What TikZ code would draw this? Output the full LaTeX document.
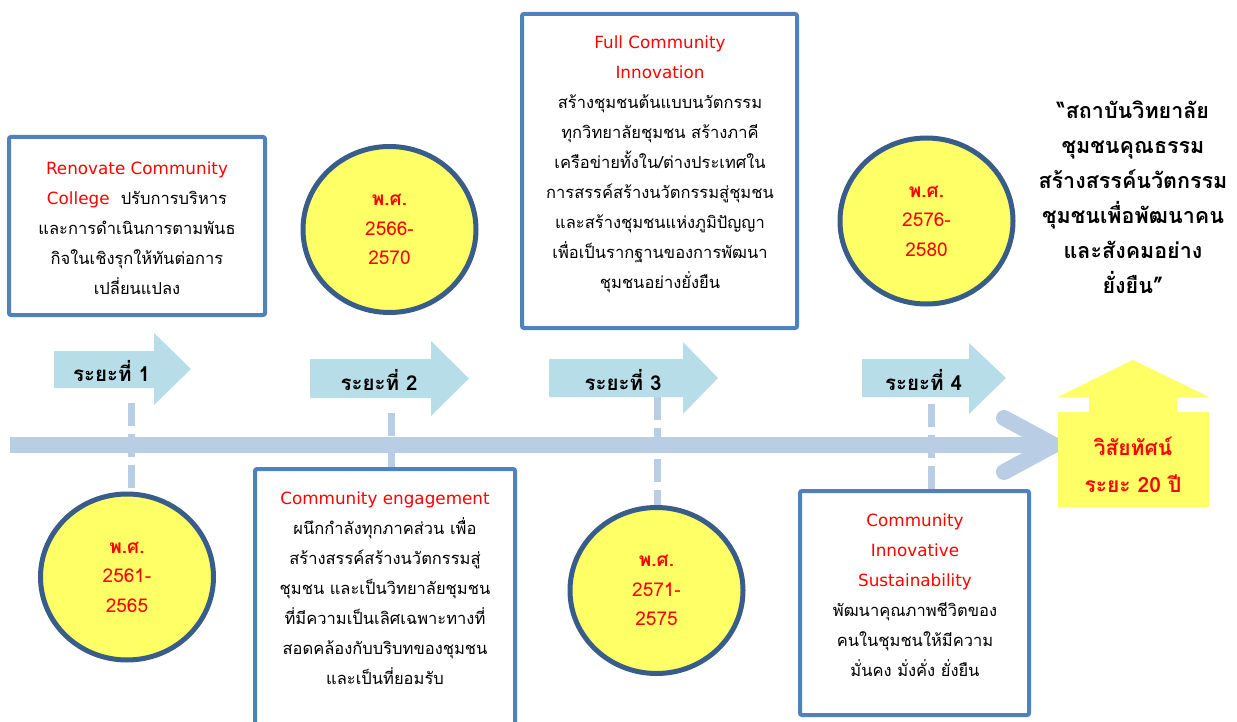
\documentclass[tikz,border=0pt]{standalone}
\usepackage{fontspec}
\setmainfont{Loma}[Script=Thai]
\newfontfamily\latfont{DejaVu Sans}
\newcommand\entxt[1]{{\latfont\fontsize{16.8}{30}\selectfont\color{redtxt}#1}}
\usetikzlibrary{shapes.geometric}
\definecolor{boxblue}{RGB}{79,129,189}
\definecolor{circblue}{RGB}{56,93,138}
\definecolor{yel}{RGB}{255,255,102}
\definecolor{arrfill}{RGB}{183,222,232}
\definecolor{tlblue}{RGB}{185,205,229}
\definecolor{redtxt}{RGB}{255,0,0}
\begin{document}
\begin{tikzpicture}[x=1pt,y=-1pt,
  box/.style={draw=boxblue, line width=4pt, fill=white, rounded corners=2pt, inner sep=0pt},
  yr/.style={ellipse, draw=circblue, line width=5pt, fill=yel, minimum width=173pt, minimum height=166pt, inner sep=0pt, align=center, text=redtxt, font=\fontsize{19}{29.5}\selectfont},
  txt/.style={align=center, inner sep=0pt, font=\fontsize{16.5}{30}\selectfont},
  quote/.style={align=center, inner sep=0pt, font=\bfseries\fontsize{21.5}{35}\selectfont},
  phase/.style={inner sep=0pt, font=\bfseries\fontsize{20.5}{22}\selectfont},
  vis/.style={align=center, inner sep=0pt, text=redtxt, font=\bfseries\fontsize{21}{37}\selectfont},
  tl/.style={draw=tlblue, line width=16pt},
  conn/.style={draw=tlblue, line width=7pt, dash pattern=on 23pt off 8pt},
  afill/.style={fill=arrfill}
]
\useasboundingbox (0,0) rectangle (1237,722);

% anchor coordinates
\coordinate (k1) at (131,403);
\coordinate (k2) at (391,413);
\coordinate (k3) at (657,397);
\coordinate (k4) at (931,404);
\coordinate (ts) at (10,445);
\coordinate (te) at (1054,445);
\coordinate (ca) at (1004,418);
\coordinate (cb) at (1004,472);
\coordinate (c1n) at (131,494);
\coordinate (b2n) at (391,469);
\coordinate (c3n) at (657,507);
\coordinate (b4n) at (931,491);

% dashed connectors (behind the boxes and circles)
\draw[conn] (k1) -- (c1n);
\draw[conn] (k2) -- (b2n);
\draw[conn] (k3) -- (c3n);
\draw[conn] (k4) -- (b4n);

% timeline
\draw[tl] (ts) -- (te);
\draw[tl, line cap=round, line join=round] (ca) -- (te) -- (cb);

% phase arrows
\fill[afill] (54,351) -- (154,351) -- (154,333) -- (191,369) -- (154,405) -- (154,388) -- (54,388) -- cycle;
\fill[afill] (310,359) -- (431,359) -- (431,341) -- (469,378.5) -- (431,416) -- (431,398) -- (310,398) -- cycle;
\fill[afill] (549,359) -- (683,359) -- (683,342) -- (718,378) -- (683,414) -- (683,397) -- (549,397) -- cycle;
\fill[afill] (862,359) -- (969,359) -- (969,343) -- (1006,378) -- (969,414) -- (969,397) -- (862,397) -- cycle;
\node[phase] (p1) at (111.5,371) {ระยะที่ 1};
\node[phase] (p2) at (379,380) {ระยะที่ 2};
\node[phase] (p3) at (623,380) {ระยะที่ 3};
\node[phase] (p4) at (923.5,380) {ระยะที่ 4};

% vision shape
\fill[yel] (1058,507) -- (1058,412) -- (1089,412) -- (1089,397) -- (1058,397) -- (1133,360) -- (1209,397) -- (1177,397) -- (1177,412) -- (1209,412) -- (1209,507) -- cycle;
\node[vis] (v) at (1133,464.5) {วิสัยทัศน์\\ระยะ 20 ปี};

% boxes
\node[box, minimum width=256pt, minimum height=178pt] (b1) at (137,226) {};
\node[box, minimum width=275pt, minimum height=314pt] (b3) at (659.5,171) {};
\node[box, minimum width=260pt, minimum height=271pt] (b2) at (385,604.5) {};
\node[box, minimum width=229pt, minimum height=224pt] (b4) at (914.5,603) {};

\node[txt] (t1) at (137,228) {\entxt{Renovate Community}\\\entxt{College}\ \ ปรับการบริหาร\\และการดำเนินการตามพันธ\\กิจในเชิงรุกให้ทันต่อการ\\เปลี่ยนแปลง};
\node[txt] (t3) at (660,164) {\entxt{Full Community}\\\entxt{Innovation}\\สร้างชุมชนต้นแบบนวัตกรรม\\ทุกวิทยาลัยชุมชน สร้างภาคี\\เครือข่ายทั้งใน/ต่างประเทศใน\\การสรรค์สร้างนวัตกรรมสู่ชุมชน\\และสร้างชุมชนแห่งภูมิปัญญา\\เพื่อเป็นรากฐานของการพัฒนา\\ชุมชนอย่างยั่งยืน};
\node[txt] (t2) at (385,588) {\entxt{Community engagement}\\ผนึกกำลังทุกภาคส่วน เพื่อ\\สร้างสรรค์สร้างนวัตกรรมสู่\\ชุมชน และเป็นวิทยาลัยชุมชน\\ที่มีความเป็นเลิศเฉพาะทางที่\\สอดคล้องกับบริบทของชุมชน\\และเป็นที่ยอมรับ};
\node[txt] (t4) at (915,595) {\entxt{Community}\\\entxt{Innovative}\\\entxt{Sustainability}\\พัฒนาคุณภาพชีวิตของ\\คนในชุมชนให้มีความ\\มั่นคง มั่งคั่ง ยั่งยืน};

% circles
\node[yr] (c1) at (127,577) {\textbf{พ.ศ.}\\2561-\\2565};
\node[yr] (c2) at (389.5,229.5) {\textbf{พ.ศ.}\\2566-\\2570};
\node[yr] (c3) at (656.5,590.5) {\textbf{พ.ศ.}\\2571-\\2575};
\node[yr] (c4) at (926.5,221) {\textbf{พ.ศ.}\\2576-\\2580};

% quote
\node[quote] (q) at (1133,197) {“สถาบันวิทยาลัย\\ชุมชนคุณธรรม\\สร้างสรรค์นวัตกรรม\\ชุมชนเพื่อพัฒนาคน\\และสังคมอย่าง\\ยั่งยืน”};
\end{tikzpicture}
\end{document}
